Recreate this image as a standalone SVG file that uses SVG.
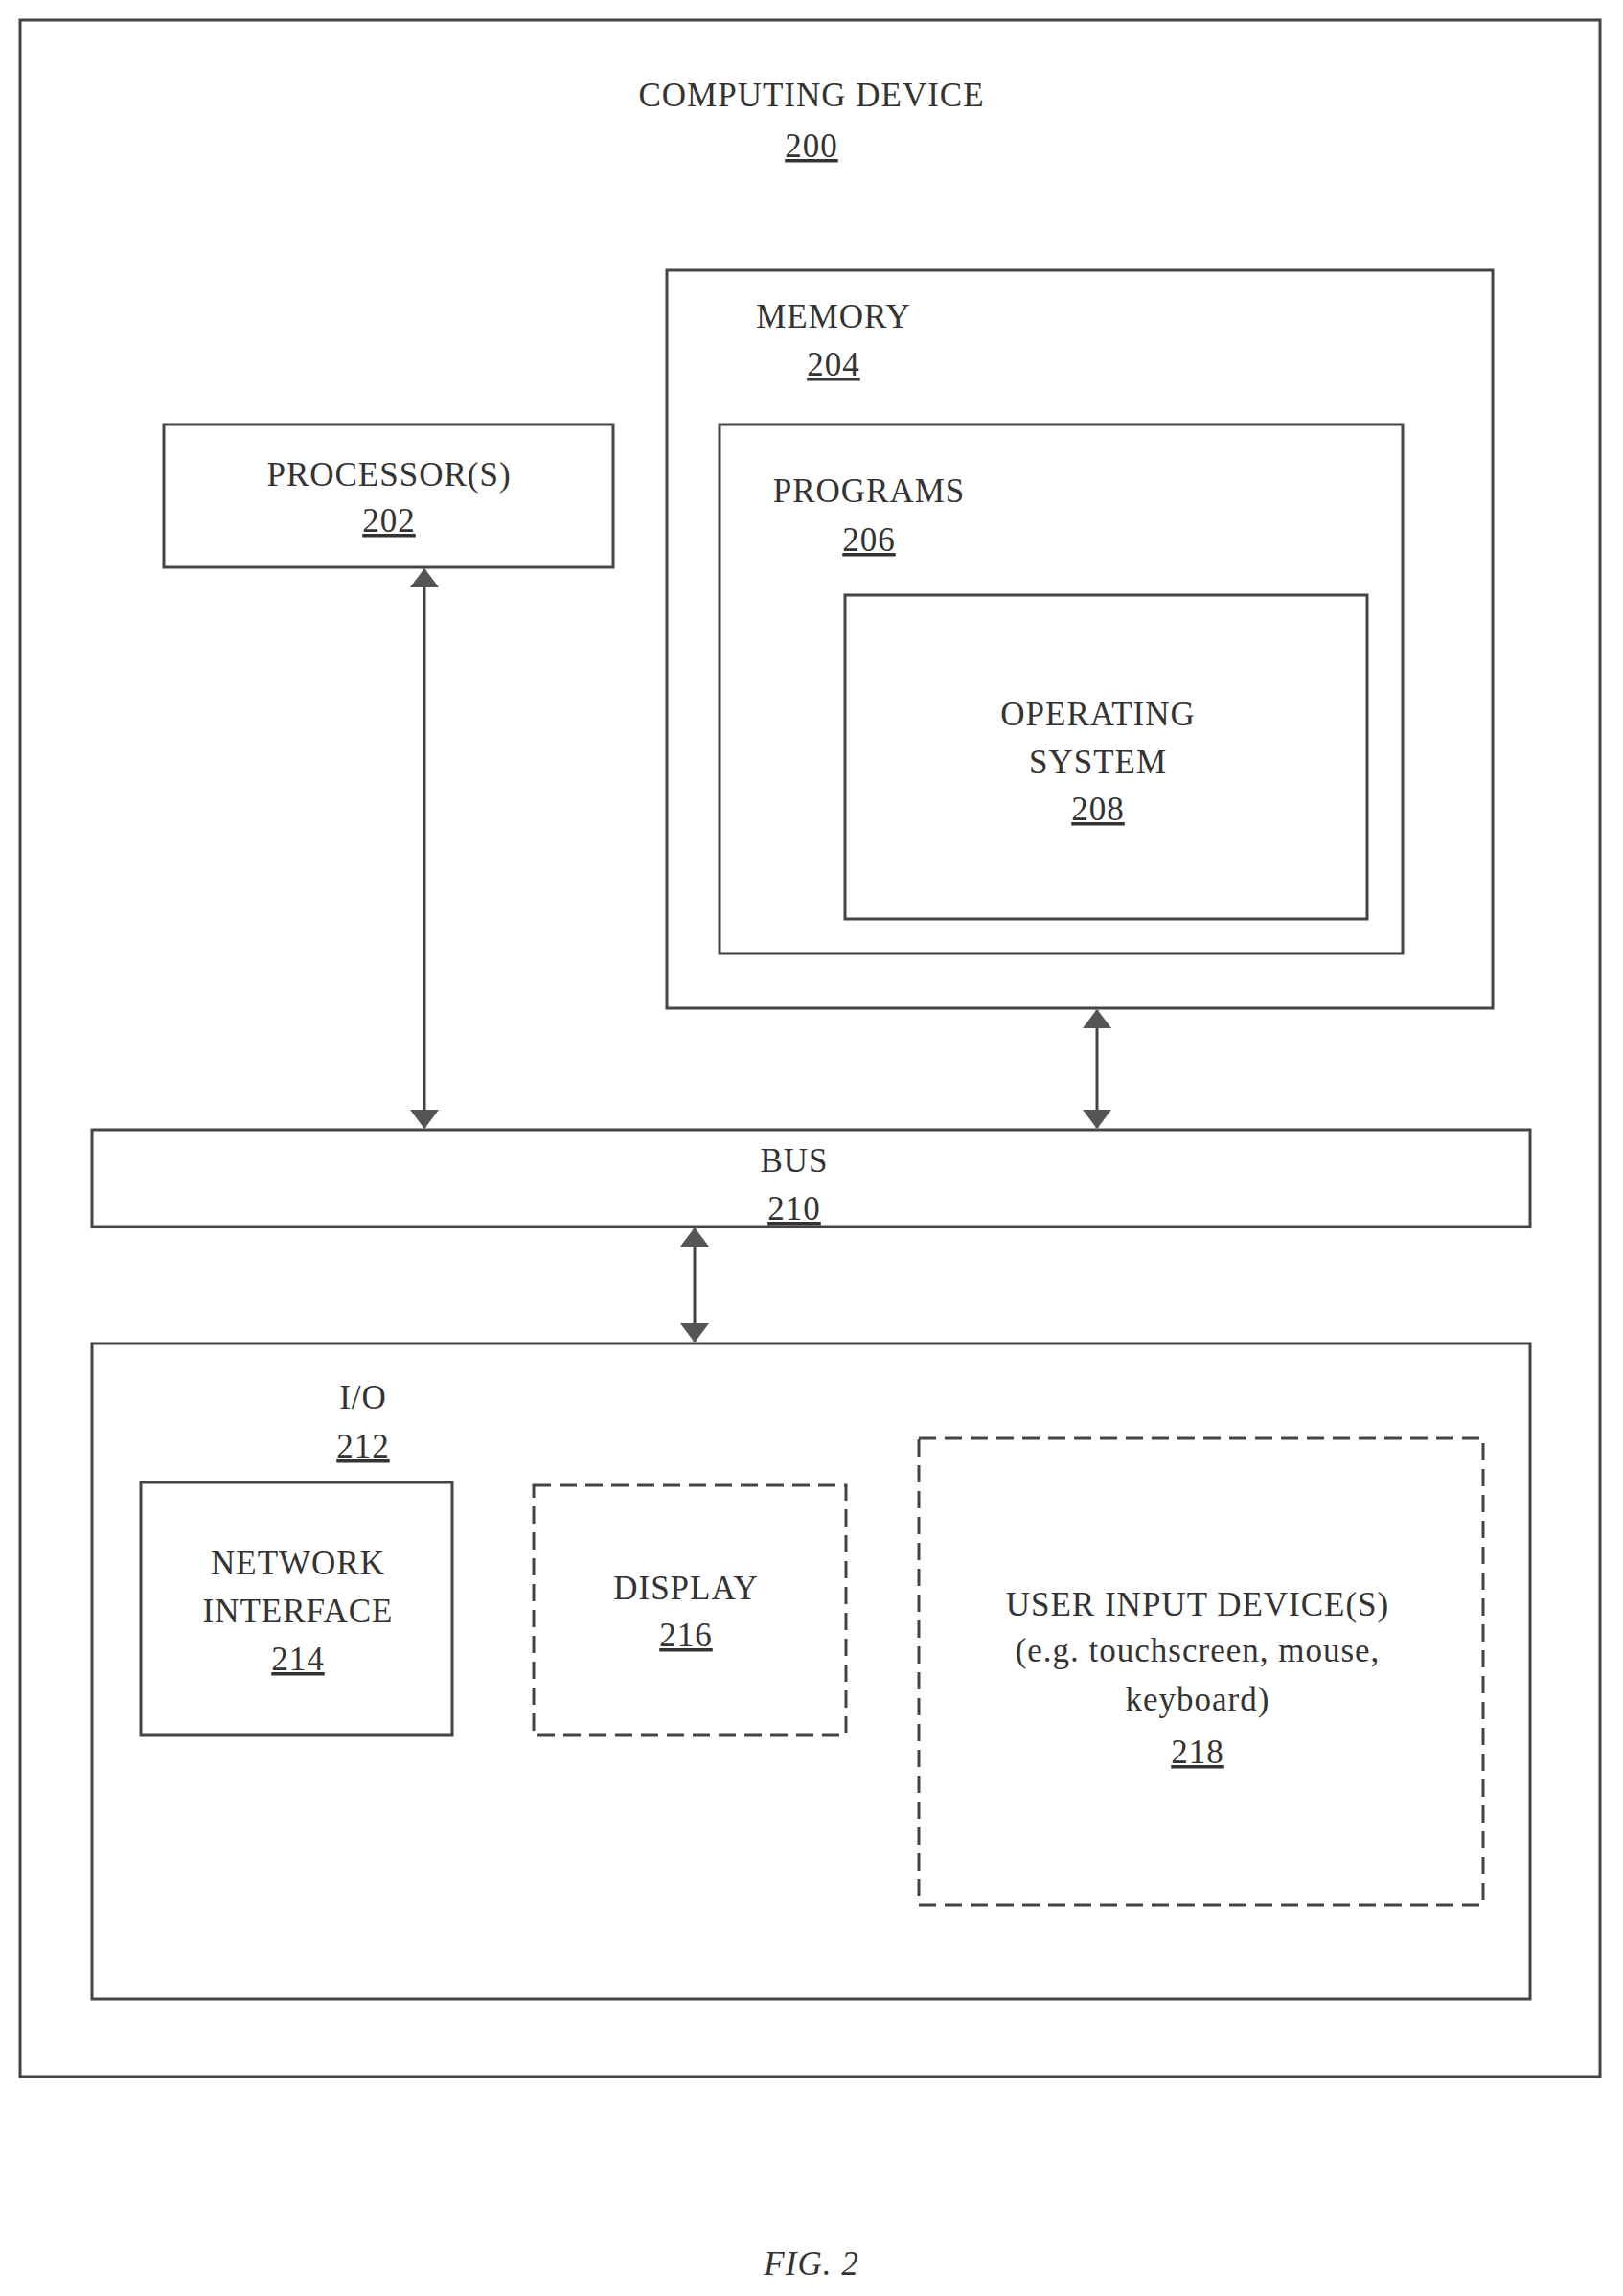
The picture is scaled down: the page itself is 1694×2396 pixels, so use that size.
<svg xmlns="http://www.w3.org/2000/svg" width="1694" height="2396" viewBox="0 0 1694 2396">
<style>
.b{fill:none;stroke:#444;stroke-width:3}
.d{fill:none;stroke:#444;stroke-width:3;stroke-dasharray:18,9}
text{font-family:"Liberation Serif",serif;font-size:35px;fill:#333;text-anchor:middle;letter-spacing:1px}
.u{text-decoration:underline}
.c{stroke:#444;stroke-width:3;fill:none}
</style>
<defs>
<marker id="a" viewBox="0 0 20 30" refX="19" refY="15" markerWidth="20" markerHeight="30" markerUnits="userSpaceOnUse" orient="auto-start-reverse">
<path d="M0,0 L20,15 L0,30 Z" fill="#555"/>
</marker>
</defs>
<rect width="1694" height="2396" fill="#fff"/>
<g id="n200"><rect class="b" x="21" y="21" width="1649" height="2146"/>
<text x="847" y="111">COMPUTING DEVICE</text><text class="u" x="847" y="164">200</text></g>
<g id="n204"><rect class="b" x="696" y="282" width="862" height="770"/>
<text x="870" y="342">MEMORY</text><text class="u" x="870" y="392">204</text></g>
<g id="n206"><rect class="b" x="751" y="443" width="713" height="552"/>
<text x="907" y="524">PROGRAMS</text><text class="u" x="907" y="575">206</text></g>
<g id="n208"><rect class="b" x="882" y="621" width="545" height="338"/>
<text x="1146" y="757">OPERATING</text><text x="1146" y="807">SYSTEM</text><text class="u" x="1146" y="856">208</text></g>
<g id="n202"><rect class="b" x="171" y="443" width="469" height="149"/>
<text x="406" y="507">PROCESSOR(S)</text><text class="u" x="406" y="555">202</text></g>
<g id="n210"><rect class="b" x="96" y="1179" width="1501" height="101"/>
<text x="829" y="1223">BUS</text><text class="u" x="829" y="1273">210</text></g>
<g id="n212"><rect class="b" x="96" y="1402" width="1501" height="684"/>
<text x="379" y="1470">I/O</text><text class="u" x="379" y="1521">212</text></g>
<g id="n214"><rect class="b" x="147" y="1547" width="325" height="264"/>
<text x="311" y="1643">NETWORK</text><text x="311" y="1693">INTERFACE</text><text class="u" x="311" y="1743">214</text></g>
<g id="n216"><rect class="d" x="557" y="1550" width="326" height="261"/>
<text x="716" y="1669">DISPLAY</text><text class="u" x="716" y="1718">216</text></g>
<g id="n218"><rect class="d" x="959" y="1501" width="589" height="487"/>
<text x="1250" y="1686">USER INPUT DEVICE(S)</text><text x="1250" y="1734">(e.g. touchscreen, mouse,</text><text x="1250" y="1785">keyboard)</text><text class="u" x="1250" y="1840">218</text></g>
<g id="connectors">
<line class="c" x1="443" y1="594" x2="443" y2="1177" marker-start="url(#a)" marker-end="url(#a)"/>
<line class="c" x1="1145" y1="1054" x2="1145" y2="1177" marker-start="url(#a)" marker-end="url(#a)"/>
<line class="c" x1="725" y1="1282" x2="725" y2="1400" marker-start="url(#a)" marker-end="url(#a)"/>
</g>
<text x="847" y="2374" style="font-style:italic">FIG. 2</text>
</svg>
